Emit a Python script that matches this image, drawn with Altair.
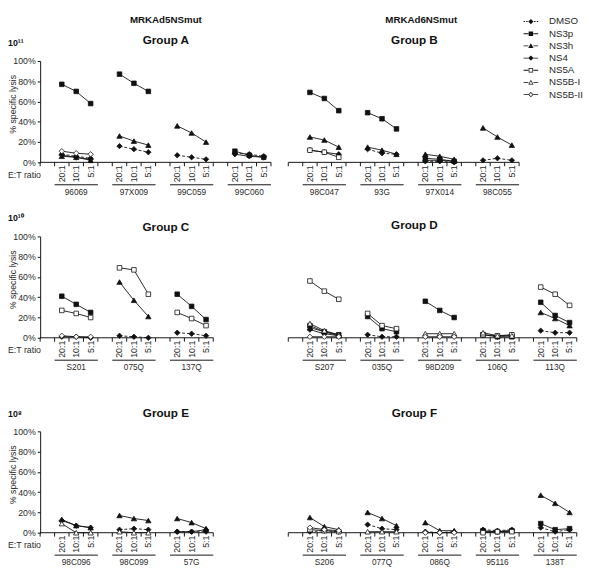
import altair as alt
import pandas as pd

# ---------------- data ----------------
RATIOS = ["20:1", "10:1", "5:1"]
SERIES = ["DMSO", "NS3p", "NS3h", "NS4", "NS5A", "NS5B-I", "NS5B-II"]
VECTORS = ["MRKAd5NSmut", "MRKAd6NSmut"]
DOSES = ["10¹¹", "10¹⁰", "10⁸"]
GROUP_TITLES = [("Group A", "Group B"), ("Group C", "Group D"), ("Group E", "Group F")]

# % specific lysis at E:T 20:1, 10:1, 5:1
GROUP_A = {
    "96069":  {"NS3p": [77, 70, 58], "NS5B-II": [11, 9, 8], "DMSO": [8, 6, 4], "NS4": [7, 5, 3], "NS3h": [6, 5, 2]},
    "97X009": {"NS3p": [87, 78, 70], "NS3h": [26, 21, 17], "DMSO": [16, 13, 10]},
    "99C059": {"NS3h": [36, 29, 20], "DMSO": [7, 5, 3]},
    "99C060": {"NS3p": [11, 7, 5], "DMSO": [9, 8, 6], "NS4": [8, 6, 5]},
}
GROUP_B = {
    "98C047": {"NS3p": [69, 63, 51], "NS3h": [25, 22, 15], "NS4": [12, 10, 8], "NS5A": [12, 10, 5]},
    "93G":    {"NS3p": [49, 43, 33], "NS3h": [15, 12, 8], "DMSO": [13, 9, 8]},
    "97X014": {"NS3h": [8, 6, 3], "NS3p": [4, 3, 1], "NS4": [2, 2, 1], "DMSO": [1, 1, 0]},
    "98C055": {"NS3h": [34, 25, 17], "DMSO": [2, 4, 2]},
}
GROUP_C = {
    "S201": {"NS3p": [41, 33, 25], "NS5A": [27, 24, 20], "NS5B-II": [2, 1, 1], "NS4": [1, 1, 0]},
    "075Q": {"NS5A": [69, 67, 43], "NS3h": [55, 37, 21], "DMSO": [2, 1, 0]},
    "137Q": {"NS3p": [43, 31, 18], "NS5A": [25, 19, 12], "DMSO": [5, 4, 2]},
}
GROUP_D = {
    "S207":   {"NS5A": [56, 46, 38], "NS5B-I": [14, 7, 3], "NS3p": [12, 6, 3], "NS3h": [10, 6, 2], "NS4": [8, 4, 2], "NS5B-II": [1, 1, 1]},
    "035Q":   {"NS5A": [24, 12, 9], "NS3p": [21, 9, 6], "DMSO": [3, 1, 1]},
    "98D209": {"NS3p": [36, 27, 20], "NS5B-I": [4, 4, 4], "NS5B-II": [1, 1, 1]},
    "106Q":   {"NS5B-I": [5, 2, 2], "NS5A": [3, 2, 3], "NS3p": [3, 1, 1], "DMSO": [3, 1, 3]},
    "113Q":   {"NS5A": [50, 43, 32], "NS3p": [35, 22, 15], "NS3h": [25, 19, 12], "DMSO": [7, 5, 5]},
}
GROUP_E = {
    "98C096": {"NS3h": [13, 7, 5], "NS4": [12, 7, 5], "NS5B-I": [9, 0, 0]},
    "98C099": {"NS3h": [17, 14, 12], "DMSO": [3, 4, 3], "NS5B-I": [1, 0, 0]},
    "57G":    {"NS3h": [14, 10, 4], "NS4": [1, 1, 3], "DMSO": [1, 1, 1]},
}
GROUP_F = {
    "S206":  {"NS3h": [15, 6, 3], "NS5B-II": [5, 3, 2], "NS5A": [3, 2, 1], "DMSO": [1, 2, 1]},
    "077Q":  {"NS3h": [20, 14, 7], "DMSO": [8, 4, 3], "NS5B-I": [1, 1, 1]},
    "086Q":  {"NS3h": [10, 2, 2], "DMSO": [1, 0, 1], "NS5B-II": [0, 0, 0]},
    "95116": {"DMSO": [3, 2, 3], "NS3p": [2, 1, 2], "NS4": [1, 1, 2], "NS5A": [0, 1, 1]},
    "138T":  {"NS3h": [37, 29, 20], "NS3p": [9, 3, 4], "DMSO": [5, 1, 3]},
}
ROWS = [(GROUP_A, GROUP_B), (GROUP_C, GROUP_D), (GROUP_E, GROUP_F)]

# ---------------- styles / layout ----------------
FONT = "Liberation Sans"
INK = "#111111"
TXT = "#2a2a2a"
W, H = 550, 104
SLOT = 4            # 3 ratios + 1 empty category per sample
RIGHT_START = 17.2  # category position where the right-hand group starts
XSCALE = alt.Scale(domain=[-1.5, 35.66], nice=False, zero=False)
YSCALE = alt.Scale(domain=[0, 100], nice=False, zero=True)

MARK = {
    "DMSO":    ("diamond", INK, [3, 2]),
    "NS3p":    ("square", INK, None),
    "NS3h":    ("triangle-up", INK, None),
    "NS4":     ("diamond", INK, None),
    "NS5A":    ("square", "white", None),
    "NS5B-I":  ("triangle-up", "white", None),
    "NS5B-II": ("diamond", "white", None),
}
SIZE = {"square": 22, "triangle-up": 30, "diamond": 30}

# legend symbols: line (thin filled bars) + marker (open markers drawn as rings)
_DIA = "M0,-0.45L0.45,0L0,0.45L-0.45,0Z"
_DIA_IN = "M0,-0.28L-0.28,0L0,0.28L0.28,0Z"
_SQ = "M-0.38,-0.38H0.38V0.38H-0.38Z"
_SQ_IN = "M-0.26,-0.26V0.26H0.26V-0.26Z"
_TRI = "M0,-0.45L0.45,0.35H-0.45Z"
_TRI_IN = "M0,-0.22L-0.27,0.24H0.27Z"


def _bar(a, b):
    return f"M{a},-0.075H{b}V0.075H{a}Z"


_LINE = _bar(-1.25, -0.42) + _bar(0.42, 1.25)
_DASH = _bar(-1.25, -1.0) + _bar(-0.8, -0.55) + _bar(0.55, 0.8) + _bar(1.0, 1.25)
LEG_PATHS = [
    _DASH + _DIA,
    _LINE + _SQ,
    _LINE + _TRI,
    _LINE + _DIA,
    _LINE + _SQ + _SQ_IN,
    _LINE + _TRI + _TRI_IN,
    _LINE + _DIA + _DIA_IN,
]

AXIS = alt.Axis(
    values=[0, 20, 40, 60, 80, 100], labelExpr="datum.value + '%'", title="% specific lysis",
    grid=False, tickSize=3, tickColor=INK, domainColor=INK, labelFontSize=9, labelColor=TXT,
    labelPadding=2, titleFontSize=9, titleFontWeight="normal", titleColor=TXT,
    titleX=-23, titleY=44, labelFont=FONT, titleFont=FONT,
)


def X(f):
    return alt.X(f"{f}:Q", scale=XSCALE, axis=None)


def Y(f):
    return alt.Y(f"{f}:Q", scale=YSCALE, axis=AXIS)


def one(text):
    return pd.DataFrame({"t": [text]})


LEFT_TITLE_X, RIGHT_TITLE_X = 129, 384
TITLE_Y = [(-21, -21), (-10, -12), (-19, -19)]
DOSE_Y = [-18, -19, -18]


def row_chart(r):
    left, right = ROWS[r]
    recs, samples, ratio_lbls, ticks, bases = [], [], [], [], []
    for side, grp in enumerate((left, right)):
        off = RIGHT_START * side
        names = list(grp)
        for i, name in enumerate(names):
            x0 = off + SLOT * i
            samples.append({"sample": name, "start": x0 - 0.5, "end": x0 + 2.5, "mid": x0 + 1})
            for j, rt in enumerate(RATIOS):
                ratio_lbls.append({"x": x0 + j, "ratio": rt})
            for s, vals in grp[name].items():
                for j, v in enumerate(vals):
                    recs.append({"sample": name, "series": s, "ratio": RATIOS[j], "x": x0 + j, "value": v})
        start, end = off - 1.5, off + SLOT * len(names) - 1.5
        bases.append({"start": start, "end": end})
        k = 0
        while start + k <= end + 1e-9:
            ticks.append({"x": start + k})
            k += 1
    df = pd.DataFrame(recs)

    layers = []
    layers.append(
        alt.Chart(pd.DataFrame(bases)).transform_calculate(z="0")
        .mark_rule(color=INK, strokeWidth=1)
        .encode(x=X("start"), x2="end:Q", y=Y("z"))
    )
    layers.append(
        alt.Chart(pd.DataFrame(ticks)).transform_calculate(z="0")
        .mark_rule(color=INK, strokeWidth=1, y2Offset=4)
        .encode(x=X("x"), y=Y("z"), y2="z:Q")
    )
    for s in SERIES:
        sub = df[df.series == s]
        if sub.empty:
            continue
        shape, fill, dash = MARK[s]
        kw = {"strokeDash": dash} if dash else {}
        layers.append(
            alt.Chart(sub).mark_line(color=INK, strokeWidth=0.9, **kw)
            .encode(x=X("x"), y=Y("value"), detail="sample:N")
        )
    for s in SERIES:
        sub = df[df.series == s]
        if sub.empty:
            continue
        shape, fill, dash = MARK[s]
        layers.append(
            alt.Chart(sub).mark_point(shape=shape, filled=True, fill=fill, stroke=INK, strokeWidth=0.8,
                                      size=SIZE[shape], opacity=1)
            .encode(x=X("x"), y=Y("value"))
        )
    # category labels
    layers.append(
        alt.Chart(pd.DataFrame(ratio_lbls))
        .mark_text(angle=270, align="right", baseline="middle", font=FONT, fontSize=9, color=TXT)
        .encode(x=X("x"), y=alt.value(H + 3), text="ratio:N")
    )
    sdf = pd.DataFrame(samples)
    layers.append(
        alt.Chart(sdf).mark_rule(color=INK, strokeWidth=1)
        .encode(x=X("start"), x2="end:Q", y=alt.value(H + 23))
    )
    layers.append(
        alt.Chart(sdf).mark_text(baseline="middle", font=FONT, fontSize=8.5, color=TXT)
        .encode(x=X("mid"), y=alt.value(H + 30), text="sample:N")
    )
    layers.append(
        alt.Chart(one("E:T ratio")).mark_text(align="left", baseline="middle", font=FONT, fontSize=9, color=TXT)
        .encode(x=alt.value(-33), y=alt.value(H + 13), text="t:N")
    )
    # titles
    layers.append(
        alt.Chart(one(DOSES[r])).mark_text(align="left", baseline="middle", font=FONT, fontSize=9,
                                            fontWeight="bold", color=INK)
        .encode(x=alt.value(-33), y=alt.value(DOSE_Y[r]), text="t:N")
    )
    for side, tx in enumerate((LEFT_TITLE_X, RIGHT_TITLE_X)):
        layers.append(
            alt.Chart(one(GROUP_TITLES[r][side])).mark_text(baseline="middle", font=FONT, fontSize=12,
                                                             fontWeight="bold", color=INK)
            .encode(x=alt.value(tx), y=alt.value(TITLE_Y[r][side]), text="t:N")
        )
    if r == 0:
        for tx, name in zip((129, 391), VECTORS):
            layers.append(
                alt.Chart(one(name)).mark_text(baseline="middle", font=FONT, fontSize=10,
                                               fontWeight="bold", color=INK)
                .encode(x=alt.value(tx), y=alt.value(-42), text="t:N")
            )
        layers.append(
            alt.Chart(pd.DataFrame({"series": SERIES})).transform_filter("false")
            .mark_point(filled=True, fill=INK, stroke=INK, strokeWidth=0.6, opacity=1)
            .encode(shape=alt.Shape(
                "series:N",
                scale=alt.Scale(domain=SERIES, range=LEG_PATHS),
                legend=alt.Legend(
                    orient="none", legendX=497, legendY=-47, title=None, direction="vertical",
                    symbolSize=144, symbolFillColor=INK, symbolStrokeColor=INK, symbolStrokeWidth=0.6,
                    labelFont=FONT, labelFontSize=10, labelColor=TXT, labelOffset=12,
                    rowPadding=0.5, padding=0, symbolOffset=0, titlePadding=0,
                ),
            ))
        )
    return alt.layer(*layers).properties(width=W, height=H)


inner = alt.vconcat(row_chart(1), row_chart(2), spacing=36)
chart = (
    alt.vconcat(row_chart(0), inner, spacing=18)
    .properties(padding=0)
    .configure_view(stroke=None)
)
chart.save("out.html", embed_options={"renderer": "svg", "actions": False})
